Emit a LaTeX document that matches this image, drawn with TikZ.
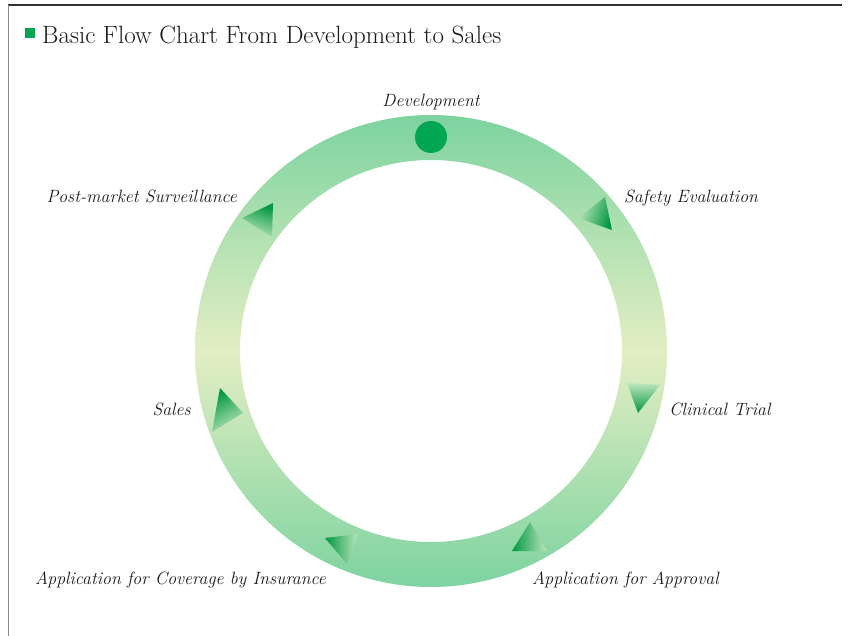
\documentclass[tikz,border=0pt]{standalone}
\definecolor{ringgreen}{HTML}{7DD3A0}
\definecolor{ringpale}{HTML}{E3EEC3}
\definecolor{dotgreen}{HTML}{00A651}
\definecolor{arrdark}{HTML}{00973F}
\definecolor{arrlight}{HTML}{BDE6BE}
\definecolor{framedark}{HTML}{333333}
\definecolor{framegray}{HTML}{8A8A8A}
\begin{document}
\begin{tikzpicture}[x=1pt,y=-1pt,
  lbl/.style={font=\fontsize{17.8}{21}\selectfont\itshape, inner sep=0pt, text=black!90},
  arrowtri/.style={top color=arrdark, bottom color=arrlight, shading angle=#1}]
\useasboundingbox (0,0) rectangle (851,636);
% frame
\draw[line width=1.2pt, framedark] (8,5) -- (842,5);
\draw[line width=0.8pt, framegray] (8,5) -- (8,636);
% title
\node[fill=dotgreen, minimum size=9.5pt, inner sep=0pt, anchor=north west] (bullet) at (25,28) {};
\node[anchor=base west, font=\fontsize{25}{30}\selectfont, inner sep=0pt, text=black!90] (title) at (42,44) {Basic Flow Chart From Development to Sales};
% ring
\coordinate (c) at (431,351);
\shade[even odd rule, top color=ringgreen, bottom color=ringgreen, middle color=ringpale]
  (c) circle[radius=236] (c) circle[radius=191];
\node[circle, fill=dotgreen, minimum size=32pt, inner sep=0pt] (dev) at (431,137) {};
% arrow triangles
\shade[arrowtri=-110] (578,218) -- (605,197) -- (612,230) -- cycle;
\shade[arrowtri=180] (627,383) -- (660,385) -- (638,413) -- cycle;
\shade[arrowtri=90] (530,522) -- (512,551) -- (547,551) -- cycle;
\shade[arrowtri=90] (325,538) -- (358,534) -- (347,564) -- cycle;
\shade[arrowtri=30] (220,388) -- (243,413) -- (212,432) -- cycle;
\shade[arrowtri=-20] (242,218) -- (273,203) -- (272,237) -- cycle;
% labels
\node[lbl, anchor=base] (ldev) at (431,107) {Development};
\node[lbl, anchor=base west] (lsafe) at (624,203) {Safety Evaluation};
\node[lbl, anchor=base east] (lpost) at (237,203) {Post-market Surveillance};
\node[lbl, anchor=base west] (lclin) at (669,415) {Clinical Trial};
\node[lbl, anchor=base east] (lsales) at (191,415) {Sales};
\node[lbl, anchor=base east] (lcov) at (326,584) {Application for Coverage by Insurance};
\node[lbl, anchor=base west] (lappr) at (532,584) {Application for Approval};
\end{tikzpicture}
\end{document}
